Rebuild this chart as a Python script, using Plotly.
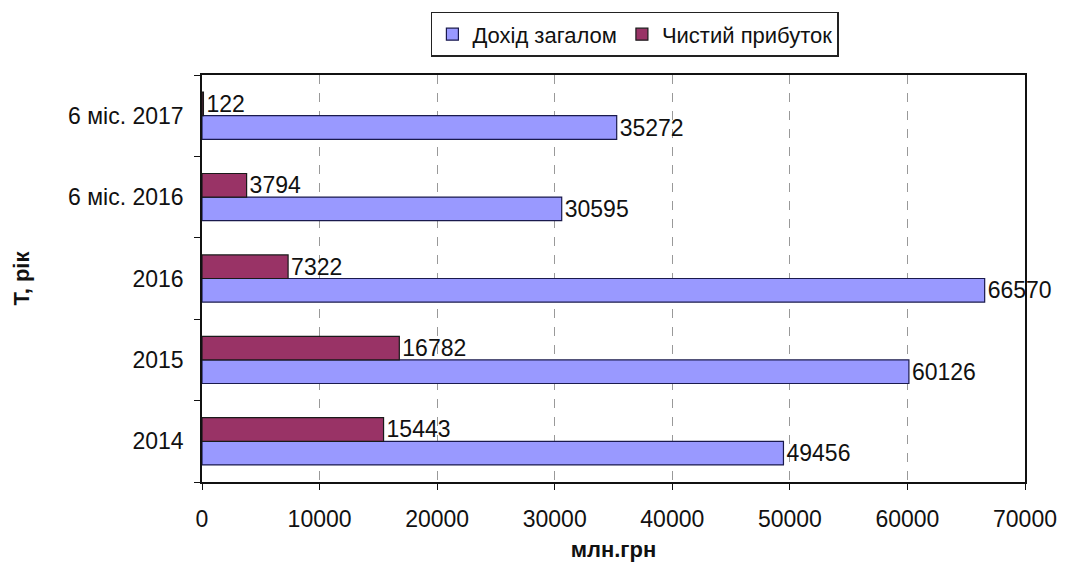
import plotly.graph_objects as go

categories = ["2014", "2015", "2016", "6 міс. 2016", "6 міс. 2017"]
income_total = [49456, 60126, 66570, 30595, 35272]
net_profit = [15443, 16782, 7322, 3794, 122]
x_ticks = [0, 10000, 20000, 30000, 40000, 50000, 60000, 70000]

FONT = "Liberation Sans, Arial, sans-serif"

fig = go.Figure()
fig.add_trace(go.Bar(
    y=categories, x=income_total, orientation="h", name="Дохід загалом",
    marker=dict(color="#9999FF", line=dict(color="#1a1a4d", width=1.2)),
    text=[str(v) for v in income_total], textposition="outside",
    textfont=dict(size=23, color="#111"), cliponaxis=False, constraintext="none",
))
fig.add_trace(go.Bar(
    y=categories, x=net_profit, orientation="h", name="Чистий прибуток",
    marker=dict(color="#993366", line=dict(color="#1a1a1a", width=1.2)),
    text=[str(v) for v in net_profit], textposition="outside",
    textfont=dict(size=23, color="#111"), cliponaxis=False, constraintext="none",
))

fig.update_layout(
    width=1067, height=566,
    margin=dict(l=202, r=42, t=75, b=84),
    paper_bgcolor="white", plot_bgcolor="white",
    font=dict(family=FONT, size=23, color="#111"),
    barmode="group", bargap=0.42, bargroupgap=0,
    legend=dict(
        orientation="h", x=0.526, xanchor="center", y=1.155, yanchor="top",
        bordercolor="#222", borderwidth=1.5, font=dict(size=22),
        traceorder="normal", itemwidth=30,
    ),
    xaxis=dict(
        range=[0, 70000], tickvals=x_ticks, ticktext=[str(v) for v in x_ticks],
        showgrid=True, gridcolor="#999", griddash="dash", gridwidth=1,
        showline=True, linecolor="#111", linewidth=1.5, mirror=True,
        ticks="outside", ticklen=6, tickcolor="#111", ticklabelstandoff=10,
        zeroline=False, automargin=False,
        title=dict(text="<b>млн.грн</b>", font=dict(size=22), standoff=10),
    ),
    yaxis=dict(
        type="category", categoryorder="array", categoryarray=categories,
        showline=True, linecolor="#111", linewidth=1.5, mirror=True,
        ticks="outside", ticklen=6, tickcolor="#111", tickson="boundaries",
        showgrid=False, ticklabelstandoff=12, automargin=False,
        title=dict(text="<b>Т, рік</b>", font=dict(size=22), standoff=32),
    ),
)

fig.write_html("out.html")
